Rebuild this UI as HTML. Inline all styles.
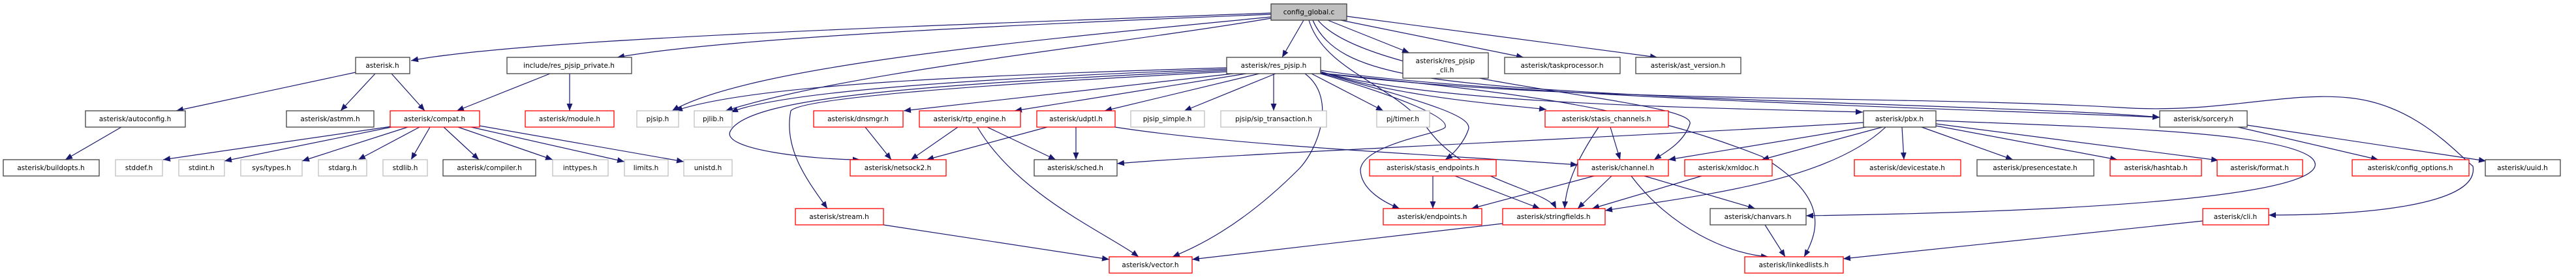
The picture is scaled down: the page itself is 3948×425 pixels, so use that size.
<!DOCTYPE html>
<html><head><meta charset="utf-8"><style>
html,body{margin:0;padding:0;background:#fff}
svg{display:block}
text{font-family:"DejaVu Sans","Liberation Sans",sans-serif;font-size:10.5px;fill:#000}
.e{fill:none;stroke:#191970;stroke-width:1.2}
.b{fill:#fff;stroke:#404040;stroke-width:1.3}
.r{fill:#fff;stroke:#ff0000;stroke-width:1.3}
.g{fill:#fff;stroke:#bfbfbf;stroke-width:1.3}
</style></head><body>
<svg width="3948" height="425" viewBox="0 0 3948 425" xmlns="http://www.w3.org/2000/svg">
<defs><marker id="a" markerUnits="userSpaceOnUse" markerWidth="12" markerHeight="10" refX="11" refY="4.5" orient="auto"><path d="M0,0 L11,4.5 L0,9 z" fill="#191970"/></marker></defs>
<g class="e" marker-end="url(#a)">
<path d="M1948,20 C1400,40 800,60 630,93"/>
<path d="M1948,22 C1500,40 1100,60 946,88"/>
<path d="M1948,26 C1600,60 1150,100 1030,170"/>
<path d="M1948,28 C1700,70 1300,110 1112,170"/>
<path d="M1998,31 L1965,88"/>
<path d="M2035,31 L2160,81"/>
<path d="M2055,31 L2335,88"/>
<path d="M2064,25 L2540,88"/>
<path d="M2012,31 C2050,120 2200,130 2600,150 C3000,165 3200,170 3310,180"/>
<path d="M2006,31 C2030,110 2140,130 2190,200 C2250,280 2370,290 2385,320"/>
<path d="M2020,31 C2100,130 2600,150 2590,190 C2580,220 2550,235 2535,245"/>
<path d="M1880,104 C1500,115 1150,130 1035,170"/>
<path d="M1880,106 C1500,120 1200,140 1120,172"/>
<path d="M1880,108 C1400,130 1150,150 1120,200 C1100,230 1250,245 1318,245"/>
<path d="M1880,110 C1500,130 1230,150 1212,170 C1200,230 1240,280 1268,320"/>
<path d="M1890,113 L1385,170"/>
<path d="M1910,113 L1555,170"/>
<path d="M1930,113 L1693,170"/>
<path d="M1955,113 L1815,170"/>
<path d="M1952,113 L1952,170"/>
<path d="M2010,113 L2120,170"/>
<path d="M2000,113 C2050,150 2020,230 1990,260 C1900,350 1830,380 1797,394"/>
<path d="M2024,113 C2150,150 2220,180 2215,195 C2210,205 2090,220 2085,260 C2085,290 2120,310 2145,320"/>
<path d="M2024,112 C2200,160 2260,180 2250,200 C2245,215 2230,235 2215,245"/>
<path d="M2024,110 C2150,150 2300,160 2370,168"/>
<path d="M2024,110 C2200,160 2600,165 2855,172"/>
<path d="M2024,108 C2300,150 3100,170 3310,180"/>
<path d="M2024,112 C2300,140 2500,160 2700,240 C2800,300 2790,350 2765,394"/>
<path d="M2024,112 C2400,160 2900,145 3250,165 C3400,175 3500,140 3600,150 C3700,160 3760,230 3790,255 C3800,310 3650,330 3477,330"/>
<path d="M545,111 L270,170"/>
<path d="M575,113 L522,170"/>
<path d="M600,113 L651,170"/>
<path d="M843,113 L700,170"/>
<path d="M873,113 L873,170"/>
<path d="M186,195 L100,245"/>
<path d="M600,194 L250,245"/>
<path d="M600,195 L344,247"/>
<path d="M625,195 L463,247"/>
<path d="M643,195 L549,245"/>
<path d="M659,195 L630,245"/>
<path d="M680,195 L734,245"/>
<path d="M702,195 L847,245"/>
<path d="M722,195 L957,248"/>
<path d="M735,193 L1048,248"/>
<path d="M1326,195 L1366,245"/>
<path d="M1468,195 L1396,245"/>
<path d="M1605,195 L1420,245"/>
<path d="M1513,195 L1618,245"/>
<path d="M1649,195 L1649,245"/>
<path d="M1498,195 C1560,300 1700,360 1745,394"/>
<path d="M1709,195 C1900,225 2250,240 2418,253"/>
<path d="M2856,188 C2500,210 1900,235 1712,251"/>
<path d="M1354,345 L1700,398"/>
<path d="M2303,343 L1827,398"/>
<path d="M2468,195 L2483,245"/>
<path d="M2450,195 C2420,240 2400,280 2398,320"/>
<path d="M2196,270 L2196,320"/>
<path d="M2230,270 L2360,320"/>
<path d="M2443,270 L2255,320"/>
<path d="M2470,270 L2418,320"/>
<path d="M2520,270 L2690,320"/>
<path d="M2500,270 C2560,350 2650,390 2710,394"/>
<path d="M2608,270 L2440,320"/>
<path d="M2860,195 L2557,245"/>
<path d="M2885,195 L2700,245"/>
<path d="M2890,195 C2800,280 2600,300 2460,323"/>
<path d="M2915,195 L2918,245"/>
<path d="M2945,195 L3085,245"/>
<path d="M2967,193 L3245,245"/>
<path d="M2967,190 L3400,246"/>
<path d="M2967,185 C3200,195 3480,200 3540,240 C3580,270 3500,320 2768,331"/>
<path d="M2705,345 L2736,394"/>
<path d="M3376,339 L2825,397"/>
<path d="M3430,195 L3645,245"/>
<path d="M3444,192 L3810,247"/>
</g>
<g text-anchor="middle">
<rect x="1948" y="6" width="116" height="25" fill="#bfbfbf" stroke="#404040" stroke-width="1.3"/><text x="2006" y="22">config_global.c</text>
<rect class="b" x="545" y="88" width="83" height="25"/><text x="586" y="104">asterisk.h</text>
<rect class="b" x="777" y="88" width="191" height="25"/><text x="872" y="104">include/res_pjsip_private.h</text>
<rect class="b" x="1880" y="88" width="144" height="25"/><text x="1952" y="104">asterisk/res_pjsip.h</text>
<rect class="b" x="2150" y="81" width="131" height="39"/><text x="2215" y="97">asterisk/res_pjsip</text><text x="2215" y="111">_cli.h</text>
<rect class="b" x="2306" y="88" width="177" height="25"/><text x="2394" y="104">asterisk/taskprocessor.h</text>
<rect class="b" x="2507" y="88" width="161" height="25"/><text x="2587" y="104">asterisk/ast_version.h</text>

<rect class="b" x="131" y="170" width="153" height="25"/><text x="207" y="186">asterisk/autoconfig.h</text>
<rect class="b" x="439" y="170" width="134" height="25"/><text x="506" y="186">asterisk/astmm.h</text>
<rect class="r" x="598" y="170" width="137" height="25"/><text x="666" y="186">asterisk/compat.h</text>
<rect class="r" x="805" y="170" width="136" height="25"/><text x="873" y="186">asterisk/module.h</text>
<rect class="g" x="976" y="170" width="64" height="25"/><text x="1008" y="186">pjsip.h</text>
<rect class="g" x="1064" y="170" width="58" height="25"/><text x="1093" y="186">pjlib.h</text>
<rect class="r" x="1247" y="170" width="137" height="25"/><text x="1315" y="186">asterisk/dnsmgr.h</text>
<rect class="r" x="1409" y="170" width="155" height="25"/><text x="1486" y="186">asterisk/rtp_engine.h</text>
<rect class="r" x="1589" y="170" width="120" height="25"/><text x="1649" y="186">asterisk/udptl.h</text>
<rect class="g" x="1733" y="170" width="113" height="25"/><text x="1789" y="186">pjsip_simple.h</text>
<rect class="g" x="1871" y="170" width="162" height="25"/><text x="1952" y="186">pjsip/sip_transaction.h</text>
<rect class="g" x="2110" y="170" width="81" height="25"/><text x="2150" y="186">pj/timer.h</text>
<rect class="r" x="2368" y="170" width="189" height="25"/><text x="2462" y="186">asterisk/stasis_channels.h</text>
<rect class="b" x="2856" y="170" width="111" height="25"/><text x="2911" y="186">asterisk/pbx.h</text>
<rect class="b" x="3310" y="170" width="134" height="25"/><text x="3377" y="186">asterisk/sorcery.h</text>

<rect class="b" x="5" y="245" width="147" height="25"/><text x="78" y="261">asterisk/buildopts.h</text>
<rect class="g" x="177" y="245" width="72" height="25"/><text x="213" y="261">stddef.h</text>
<rect class="g" x="274" y="245" width="70" height="25"/><text x="309" y="261">stdint.h</text>
<rect class="g" x="369" y="245" width="94" height="25"/><text x="416" y="261">sys/types.h</text>
<rect class="g" x="488" y="245" width="74" height="25"/><text x="525" y="261">stdarg.h</text>
<rect class="g" x="587" y="245" width="68" height="25"/><text x="621" y="261">stdlib.h</text>
<rect class="b" x="679" y="245" width="142" height="25"/><text x="750" y="261">asterisk/compiler.h</text>
<rect class="g" x="847" y="245" width="85" height="25"/><text x="889" y="261">inttypes.h</text>
<rect class="g" x="957" y="245" width="67" height="25"/><text x="990" y="261">limits.h</text>
<rect class="g" x="1048" y="245" width="74" height="25"/><text x="1085" y="261">unistd.h</text>
<rect class="r" x="1303" y="245" width="147" height="25"/><text x="1376" y="261">asterisk/netsock2.h</text>
<rect class="b" x="1585" y="245" width="127" height="25"/><text x="1648" y="261">asterisk/sched.h</text>
<rect class="r" x="2099" y="245" width="194" height="25"/><text x="2196" y="261">asterisk/stasis_endpoints.h</text>
<rect class="r" x="2418" y="245" width="139" height="25"/><text x="2487" y="261">asterisk/channel.h</text>
<rect class="r" x="2582" y="245" width="134" height="25"/><text x="2649" y="261">asterisk/xmldoc.h</text>
<rect class="r" x="2842" y="245" width="163" height="25"/><text x="2923" y="261">asterisk/devicestate.h</text>
<rect class="b" x="3030" y="245" width="179" height="25"/><text x="3119" y="261">asterisk/presencestate.h</text>
<rect class="r" x="3234" y="245" width="140" height="25"/><text x="3304" y="261">asterisk/hashtab.h</text>
<rect class="r" x="3398" y="245" width="131" height="25"/><text x="3463" y="261">asterisk/format.h</text>
<rect class="r" x="3605" y="245" width="179" height="25"/><text x="3694" y="261">asterisk/config_options.h</text>
<rect class="b" x="3809" y="245" width="115" height="25"/><text x="3866" y="261">asterisk/uuid.h</text>

<rect class="r" x="1219" y="320" width="135" height="25"/><text x="1286" y="336">asterisk/stream.h</text>
<rect class="r" x="2120" y="320" width="151" height="25"/><text x="2195" y="336">asterisk/endpoints.h</text>
<rect class="r" x="2303" y="320" width="157" height="25"/><text x="2381" y="336">asterisk/stringfields.h</text>
<rect class="b" x="2621" y="320" width="147" height="25"/><text x="2694" y="336">asterisk/chanvars.h</text>
<rect class="r" x="3376" y="320" width="101" height="25"/><text x="3426" y="336">asterisk/cli.h</text>

<rect class="r" x="1700" y="394" width="127" height="25"/><text x="1763" y="410">asterisk/vector.h</text>
<rect class="r" x="2674" y="394" width="151" height="25"/><text x="2749" y="410">asterisk/linkedlists.h</text>
</g>
</svg>
</body></html>
